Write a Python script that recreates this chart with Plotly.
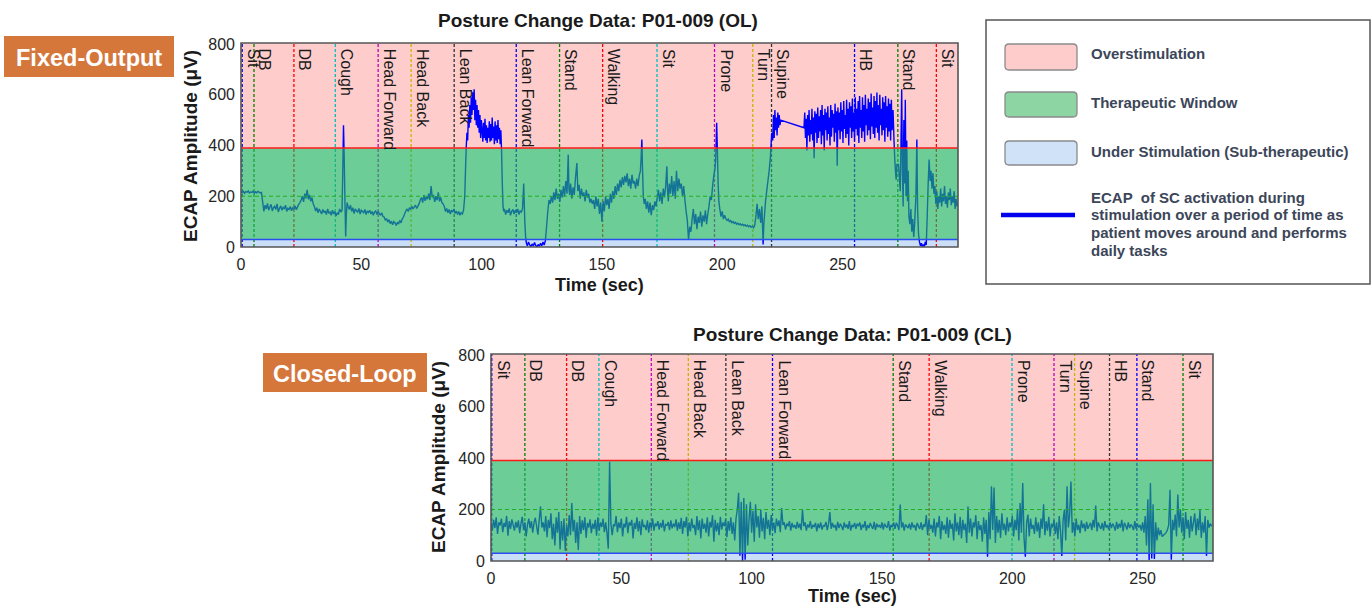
import plotly.graph_objects as go

W, H = 1371, 607

# ---------------- data ----------------
# Fixed-Output (OL) ECAP trace: time (s), amplitude (uV)
ol_t = [0,0.5,1,1.5,2,2.5,3,3.5,4,4.5,5,5.5,6,6.5,7,7.5,8,8.5,
        9,9.5,10,10.5,11,11.5,12,12.5,13,13.5,14,14.5,15,15.5,16,16.5,17,17.5,18,18.5,19,19.5,20,20.5,21,21.5,22,22.5,23,23.5,24,24.5,
        25,25.5,26,26.5,27,27.5,28,28.5,29,29.5,30,
        30.5,31,31.5,32,32.5,33,33.5,34,34.5,35,35.5,36,36.5,37,37.5,38,38.5,39,39.5,40,40.5,41,41.5,42,
        42.3,42.6,42.9,43.2,43.5,43.8,44.1,44.5,
        45,45.5,46,46.5,47,47.5,48,48.5,49,49.5,50,50.5,51,51.5,52,52.5,53,53.5,54,54.5,55,55.5,56,56.5,57,57.5,58,58.5,59,
        59.5,60,60.5,61,61.5,62,62.5,63,63.5,64,64.5,65,65.5,66,66.5,67,67.5,
        68,68.5,69,69.5,70,70.5,71,71.5,72,72.5,73,73.5,74,74.5,
        75,75.5,76,76.5,77,77.5,78,78.5,79,79.5,80,80.5,81,81.5,82,82.5,83,83.5,84,
        84.5,85,85.5,86,86.5,87,87.5,88,88.5,89,89.5,90,90.5,91,91.5,92,92.5,
        93,93.3,93.6,93.9,94.2,94.5,
        94.8,95.1,95.4,95.7,96,96.3,96.6,96.9,97.2,97.5,97.8,98.1,98.4,98.7,99,99.3,99.6,99.9,
        100.2,100.5,100.8,101.1,101.4,101.7,102,102.3,102.6,102.9,103.2,103.5,103.8,104.1,104.4,104.7,105,105.3,105.6,105.9,106.2,106.5,106.8,107.1,107.4,107.7,108,
        108.3,108.6,108.9,109.2,
        109.5,110,110.5,111,111.5,112,112.5,113,113.5,114,114.5,115,115.5,116,116.5,117,117.5,117.8,
        118,118.3,118.6,119,119.5,120,120.5,121,121.5,122,122.5,123,123.5,124,124.5,125,125.5,126,126.5,
        127,127.5,128,128.5,
        129,129.5,130,130.5,131,131.5,132,132.5,133,133.5,134,134.5,135,135.5,136,136.3,136.6,137,137.5,138,138.5,139,139.6,140,140.5,141,141.5,142,142.5,143,143.5,144,144.5,145,
        145.5,146,146.5,147,147.5,148,148.5,149,149.5,150,150.5,151,151.5,152,152.5,153,153.5,154,154.5,155,
        155.5,156,156.5,157,157.5,158,158.5,159,159.5,160,160.5,161,161.5,162,162.5,163,163.5,164,164.5,165,165.5,166,166.3,166.6,166.9,
        167.2,167.6,168,168.5,169,169.5,170,170.5,171,171.5,172,172.5,173,
        173.5,174,174.5,175,175.5,176,176.5,177,177.3,177.6,
        178,178.5,179,179.5,180,180.5,181,181.5,182,182.5,183,183.5,184,184.5,
        185,185.5,186,186.5,187,187.5,
        188,188.5,189,189.5,190,190.5,191,191.5,192,192.5,193,193.5,194,
        194.5,195,195.5,196,196.5,197,197.3,197.7,198,198.3,
        198.6,199,199.5,200,200.5,201,
        201.5,202,202.5,203,203.5,204,204.5,205,205.5,206,206.5,207,207.5,208,208.5,209,209.5,210,210.5,211,211.5,212,212.5,213,213.5,
        214,214.5,215,215.5,216,216.5,217,217.3,217.7,
        218,218.5,219,219.5,220,220.3,220.6,221,
        221.3,221.6,221.9,222.2,222.5,222.8,223.1,223.4,223.7,224,224.3,
        234,
        234.3,234.6,234.9,235.2,235.5,235.8,236.1,236.4,236.7,237,237.3,237.6,237.9,238.2,238.5,238.8,239.1,239.4,239.7,240,
        240.3,240.6,240.9,241.2,241.5,241.8,242.1,242.4,242.7,243,243.3,243.6,243.9,244.2,244.5,244.8,245.1,245.4,245.7,246,
        246.3,246.6,246.9,247.2,247.5,247.8,248.1,248.4,248.7,249,249.3,249.6,249.9,250.2,250.5,250.8,251.1,251.4,251.7,252,
        252.3,252.6,252.9,253.2,253.5,253.8,254.1,254.4,254.7,255,255.3,255.6,255.9,256.2,256.5,256.8,257.1,257.4,257.7,258,
        258.3,258.6,258.9,259.2,259.5,259.8,260.1,260.4,260.7,261,261.3,261.6,261.9,262.2,262.5,262.8,263.1,263.4,263.7,264,
        264.3,264.6,264.9,265.2,265.5,265.8,266.1,266.4,266.7,267,267.3,267.6,267.9,268.2,268.5,268.8,269.1,269.4,269.7,270,
        270.3,270.6,271,271.4,
        271.7,272,272.3,272.6,273.3,273.6,274,
        274.3,274.6,274.9,275.2,275.5,275.8,276.1,276.4,276.7,277,277.3,
        277.6,278,278.4,278.8,279.2,279.6,280,280.5,280.9,281.2,281.6,282,282.4,282.8,283.2,283.6,284,284.4,284.8,
        285.2,285.6,286,286.4,286.8,287.2,287.6,288,
        288.4,288.8,289.2,289.6,290,290.4,290.8,291.2,291.6,292,292.4,292.8,293.2,293.6,294,294.4,294.8,295.2,295.6,296,296.4,296.8,297.2,297.6,298]
ol_v = [222,214,219,212,218,216,221,213,217,215,220,212,218,214,219,216,213,215,
        178,140,165,150,172,145,158,168,142,155,160,148,170,138,152,162,145,156,150,165,140,153,148,160,143,155,150,162,147,158,168,175,
        185,200,178,210,192,225,188,205,180,195,170,
        160,142,155,135,150,140,130,148,136,142,128,150,133,138,125,145,130,140,122,135,128,150,138,145,
        300,480,350,180,41,130,175,160,
        148,165,140,155,132,150,142,138,152,130,145,140,135,148,128,142,136,145,130,140,125,138,142,128,140,132,125,135,120,
        118,105,112,98,108,92,102,88,100,95,85,98,90,105,95,110,118,
        130,142,150,140,155,148,160,150,158,165,152,160,170,185,
        195,175,205,182,198,188,210,185,240,195,205,178,200,185,215,180,195,175,170,
        160,140,152,135,148,130,145,138,150,132,142,128,140,125,135,130,145,
        200,300,390,450,420,520,
        470,560,490,590,520,610,540,622,500,580,480,560,470,540,450,520,430,500,
        460,415,490,430,505,420,480,410,470,430,495,415,485,420,510,430,475,405,495,420,480,410,500,425,470,405,460,
        380,250,160,140,
        150,128,145,135,152,125,140,148,130,145,135,150,128,142,138,150,250,150,
        90,40,15,5,20,8,2,12,4,18,6,0,10,3,15,5,20,8,25,
        80,140,185,170,
        200,175,215,185,230,190,210,178,225,195,240,200,260,210,364,230,205,250,190,235,205,270,331,220,245,190,230,200,215,180,225,195,210,175,
        190,170,185,150,200,160,190,130,175,100,180,140,200,165,190,150,210,175,220,190,
        240,205,250,220,265,235,275,245,280,255,290,240,270,230,285,250,260,230,270,240,280,300,350,424,300,
        200,170,190,150,180,135,175,125,165,145,180,160,195,
        225,180,215,170,230,195,240,318,220,180,
        250,210,280,200,260,190,300,220,270,230,250,200,240,185,
        140,105,30,80,60,110,
        150,90,130,70,120,95,140,80,125,100,145,90,130,
        160,200,185,240,280,310,344,490,380,250,
        180,150,120,140,110,125,
        112,105,110,100,104,96,100,93,97,90,94,88,92,86,90,84,88,82,86,80,84,78,82,76,85,
        120,170,110,150,95,160,10,90,140,
        180,220,260,300,350,400,450,420,
        520,430,540,460,510,440,530,470,520,480,500,
        470,
        530,430,505,380,520,440,540,415,500,445,545,420,510,350,535,450,525,410,550,430,
        515,455,540,405,560,440,520,380,545,460,530,420,555,445,510,400,560,435,540,470,
        525,415,565,450,535,320,550,460,530,425,570,455,540,410,575,465,520,430,580,445,
        545,400,570,470,555,430,585,455,530,420,590,465,545,440,575,410,595,470,540,430,
        590,455,560,415,600,480,545,440,585,460,570,425,605,475,550,445,595,430,575,470,
        609,450,560,420,600,480,545,440,590,460,570,415,595,470,555,435,585,455,565,420,
        580,460,540,420,
        350,300,265,325,325,280,220,
        400,622,300,160,500,250,580,200,420,180,300,
        120,90,150,60,110,40,95,200,424,150,50,20,5,15,0,10,2,20,8,
        120,250,345,260,300,230,291,210,
        240,170,220,150,200,175,230,160,210,180,240,170,200,155,215,185,230,165,200,175,220,150,190,160,175]

# Closed-Loop (CL) ECAP trace, sampled every 0.5 s starting at 0 s
cl_dt = 0.5
cl_v = [145,118,160,128,170,105,150,138,165,112,148,132,175,98,155,125,162,140,118,152,
        130,158,108,145,172,120,150,95,140,165,128,155,110,148,168,135,102,160,212,130,
        150,115,175,92,160,128,185,85,145,60,170,110,190,45,155,80,165,40,140,95,
        178,100,225,115,160,70,150,43,175,105,158,120,170,90,148,130,162,108,145,125,
        160,98,170,118,150,132,165,112,150,108,48,385,145,100,142,135,175,112,150,128,
        165,95,145,130,172,108,150,138,160,88,148,125,170,115,155,100,162,132,140,120,
        158,110,150,128,165,118,145,135,155,122,148,130,160,115,142,138,152,120,158,127,
        145,132,162,118,150,125,168,105,155,130,172,95,150,115,165,128,140,100,175,120,
        158,88,165,125,145,110,170,95,152,130,178,75,160,115,148,100,172,122,150,135,
        162,92,155,118,170,105,150,80,165,200,265,20,230,0,245,5,220,60,160,230,
        110,195,75,220,130,175,90,200,115,168,85,190,125,160,100,178,120,150,108,165,
        135,158,112,206,140,150,122,145,135,155,118,148,130,140,125,152,128,145,120,199,
        135,150,118,142,130,155,125,140,132,148,115,145,128,150,122,138,135,152,120,144,
        190,125,148,130,140,118,152,128,145,135,120,150,130,142,125,155,118,140,132,148,
        125,145,135,150,120,142,130,155,118,140,128,148,135,125,152,120,145,132,140,128,
        150,122,145,135,130,155,118,140,132,150,125,148,138,120,219,130,150,118,142,135,
        128,145,122,150,130,140,118,148,135,125,150,120,142,132,178,100,160,125,140,110,
        165,95,150,130,175,85,155,120,140,105,170,90,160,125,145,80,185,115,150,100,
        172,88,160,120,145,70,212,110,165,95,150,130,178,85,155,120,140,75,170,105,
        160,17,190,85,290,120,285,70,175,110,160,90,185,120,145,100,170,115,150,130,
        175,95,160,120,200,80,225,110,303,90,17,150,180,95,165,125,140,105,170,115,
        150,90,165,125,220,100,155,118,172,95,145,130,160,105,150,85,175,115,20,160,
        200,80,290,130,180,309,110,150,95,165,120,140,108,158,128,145,115,152,125,138,
        148,120,160,130,215,115,150,135,125,148,118,155,130,140,122,150,128,145,135,118,
        152,125,145,130,160,115,148,138,122,150,128,142,135,120,155,125,145,130,140,118,
        150,110,175,60,240,4,303,10,220,8,150,80,130,100,120,95,100,105,110,120,
        140,277,5,160,120,180,95,258,130,200,110,170,85,190,125,160,90,175,115,150,
        185,100,165,120,200,90,150,110,175,20,160,130,145,135]
cl_t = [i * cl_dt for i in range(len(cl_v))]

# posture event markers
ol_event_t = [0.5, 5.4, 22.0, 39.2, 57.0, 70.7, 88.6, 114.4, 132.4, 150.3, 172.9, 196.8, 212.7, 220.5, 255.0, 273.0, 289.0]
ol_event_lbl = ["Sit", "DB", "DB", "Cough", "Head Forward", "Head Back", "Lean Back", "Lean Forward", "Stand",
                "Walking", "Sit", "Prone", "Turn", "Supine", "HB", "Stand", "Sit"]
cl_event_t = [0.3, 13.0, 29.0, 41.4, 61.5, 75.7, 90.1, 108.0, 154.3, 168.1, 199.9, 216.0, 223.9, 237.3, 247.8, 265.5]
cl_event_lbl = ["Sit", "DB", "DB", "Cough", "Head Forward", "Head Back", "Lean Back", "Lean Forward", "Stand",
                "Walking", "Prone", "Turn", "Supine", "HB", "Stand", "Sit"]
event_colors = ["#0000ff", "#008000", "#ff0000", "#00bfbf", "#bf00bf", "#c8b400", "#333333"]

over_thr = 390
under_thr = 30
mid_ref = 200
x_ticks = [0, 50, 100, 150, 200, 250]
y_ticks = [0, 200, 400, 600, 800]

legend_items = ["Overstimulation", "Therapeutic Window", "Under Stimulation (Sub-therapeutic)"]
legend_line_text = ["ECAP  of SC activation during", "stimulation over a period of time as",
                    "patient moves around and performs", "daily tasks"]

# ---------------- helpers ----------------
def PX(x):
    return x / W

def PY(y):
    return 1 - y / H

FONT = "Liberation Sans, Arial, sans-serif"

fig = go.Figure()

fig.add_trace(go.Scatter(x=ol_t, y=ol_v, mode="lines", line=dict(color="#0000ff", width=1.4, simplify=False),
                         xaxis="x", yaxis="y", showlegend=False, hoverinfo="skip"))
fig.add_trace(go.Scatter(x=cl_t, y=cl_v, mode="lines", line=dict(color="#0000ff", width=1.4, simplify=False),
                         xaxis="x2", yaxis="y2", showlegend=False, hoverinfo="skip"))

shapes = []
annotations = []

panels = [
    dict(xa="x", ya="y", xr=[0, 298], yr=[0, 804], ev_t=ol_event_t, ev_l=ol_event_lbl),
    dict(xa="x2", ya="y2", xr=[0, 277], yr=[0, 804], ev_t=cl_event_t, ev_l=cl_event_lbl),
]

for p in panels:
    xa, ya = p["xa"], p["ya"]
    xd, yd = xa + " domain", ya + " domain"
    top = p["yr"][1]
    # background bands
    shapes.append(dict(type="rect", xref=xd, yref=ya, x0=0, x1=1, y0=over_thr, y1=top,
                       fillcolor="#ffcccc", line=dict(width=0), layer="below"))
    shapes.append(dict(type="rect", xref=xd, yref=ya, x0=0, x1=1, y0=0, y1=under_thr,
                       fillcolor="#cadff7", line=dict(width=0), layer="below"))
    # event lines
    for i, (t, lbl) in enumerate(zip(p["ev_t"], p["ev_l"])):
        c = event_colors[i % len(event_colors)]
        shapes.append(dict(type="line", xref=xa, yref=yd, x0=t, x1=t, y0=0, y1=1,
                           line=dict(color=c, width=1.3, dash="3px,2px"), layer="below"))
        annotations.append(dict(xref=xa, yref=yd, x=t, y=1, text=lbl, showarrow=False, textangle=90,
                                xanchor="left", yanchor="top", xshift=1, yshift=-4,
                                font=dict(family=FONT, size=16, color="#1a1a1a")))
    # therapeutic window overlay
    shapes.append(dict(type="rect", xref=xd, yref=ya, x0=0, x1=1, y0=under_thr, y1=over_thr,
                       fillcolor="rgb(31,178,93)", opacity=0.65, line=dict(width=0), layer="above"))
    shapes.append(dict(type="line", xref=xd, yref=ya, x0=0, x1=1, y0=mid_ref, y1=mid_ref,
                       line=dict(color="#22b022", width=1.2, dash="4px,3px"), layer="above"))
    shapes.append(dict(type="line", xref=xd, yref=ya, x0=0, x1=1, y0=over_thr, y1=over_thr,
                       line=dict(color="#ff1a1a", width=1.5), layer="above"))
    shapes.append(dict(type="line", xref=xd, yref=ya, x0=0, x1=1, y0=under_thr, y1=under_thr,
                       line=dict(color="#2a4cf0", width=1.5), layer="above"))
    # frame
    shapes.append(dict(type="rect", xref=xd, yref=yd, x0=0, x1=1, y0=0, y1=1,
                       line=dict(color="#555555", width=1.6), fillcolor="rgba(0,0,0,0)", layer="above"))

# ---- titles and axis titles ----
def ann_px(x, y, text, size, bold=True, angle=0, color="#1a1a1a", xanchor="center", yanchor="middle"):
    annotations.append(dict(xref="paper", yref="paper", x=PX(x), y=PY(y), text=(f"<b>{text}</b>" if bold else text),
                            showarrow=False, textangle=angle, xanchor=xanchor, yanchor=yanchor,
                            font=dict(family=FONT, size=size, color=color)))

ann_px(598, 21, "Posture Change Data: P01-009 (OL)", 19)
ann_px(852, 334, "Posture Change Data: P01-009 (CL)", 19)
ann_px(599, 285, "Time (sec)", 18)
ann_px(852, 596, "Time (sec)", 18)
ann_px(190, 146, "ECAP Amplitude (\u03bcV)", 19, angle=-90)
ann_px(438, 457, "ECAP Amplitude (\u03bcV)", 19, angle=-90)

# ---- orange tags ----
for (x0, y0, x1, y1, txt) in [(4, 36, 174, 77, "Fixed-Output"), (263, 353, 427, 392, "Closed-Loop")]:
    shapes.append(dict(type="rect", xref="paper", yref="paper", x0=PX(x0), x1=PX(x1), y0=PY(y1), y1=PY(y0),
                       fillcolor="#d5763b", line=dict(width=0), layer="above"))
    ann_px((x0 + x1) / 2, (y0 + y1) / 2 + 1, txt, 23.5, color="#ffffff")

# ---- custom legend box ----
shapes.append(dict(type="rect", xref="paper", yref="paper", x0=PX(986), x1=PX(1370), y0=PY(284), y1=PY(20),
                   fillcolor="#ffffff", line=dict(color="#555555", width=1.5), layer="above"))

def rounded(x0, y0, x1, y1, r=4):
    # pixel coords -> paper path with rounded corners
    def P(x, y):
        return f"{PX(x):.6f},{PY(y):.6f}"
    return (f"M {P(x0 + r, y0)} L {P(x1 - r, y0)} Q {P(x1, y0)} {P(x1, y0 + r)} "
            f"L {P(x1, y1 - r)} Q {P(x1, y1)} {P(x1 - r, y1)} L {P(x0 + r, y1)} "
            f"Q {P(x0, y1)} {P(x0, y1 - r)} L {P(x0, y0 + r)} Q {P(x0, y0)} {P(x0 + r, y0)} Z")

sw_fill = ["#ffcccc", "#8dd6a3", "#cfe2f8"]
sw_y = [(44, 70), (92, 117), (141, 165)]
txt_y = [53, 103, 152]
for lbl, fc, (ya0, ya1), ty in zip(legend_items, sw_fill, sw_y, txt_y):
    shapes.append(dict(type="path", xref="paper", yref="paper", path=rounded(1005, ya0, 1077, ya1),
                       fillcolor=fc, line=dict(color="#8a8a8a", width=1.3), layer="above"))
    ann_px(1089, ty, lbl, 15, color="#3c4659", xanchor="left")

shapes.append(dict(type="line", xref="paper", yref="paper", x0=PX(1001), x1=PX(1075), y0=PY(215), y1=PY(215),
                   line=dict(color="#0000ee", width=4.5), layer="above"))
for ln, ty in zip(legend_line_text, [197, 214.5, 232, 250]):
    ann_px(1089, ty, ln, 15, color="#3c4659", xanchor="left")

axis_common = dict(showgrid=False, zeroline=False, showline=False, ticks="", automargin=False,
                   tickfont=dict(family=FONT, size=16, color="#262626"), fixedrange=True)

fig.update_layout(
    width=W, height=H,
    autosize=False,
    margin=dict(l=0, r=0, t=0, b=0, pad=0),
    paper_bgcolor="#ffffff", plot_bgcolor="#ffffff",
    showlegend=False,
    hovermode=False,
    xaxis=dict(domain=[PX(241), PX(958)], range=[0, 298], tickvals=x_ticks, anchor="y",
               ticklabelstandoff=6, **axis_common),
    yaxis=dict(domain=[PY(247), PY(43)], range=[0, 804], tickvals=y_ticks, anchor="x",
               ticklabelstandoff=5, **axis_common),
    xaxis2=dict(domain=[PX(491), PX(1213)], range=[0, 277], tickvals=x_ticks, anchor="y2",
                ticklabelstandoff=6, **axis_common),
    yaxis2=dict(domain=[PY(561), PY(354)], range=[0, 804], tickvals=y_ticks, anchor="x2",
                ticklabelstandoff=5, **axis_common),
    shapes=shapes,
    annotations=annotations,
)

fig.write_html("out.html", config={"displayModeBar": False, "staticPlot": True},
               post_script="document.body.style.margin='0px';document.body.style.overflow='hidden';")
